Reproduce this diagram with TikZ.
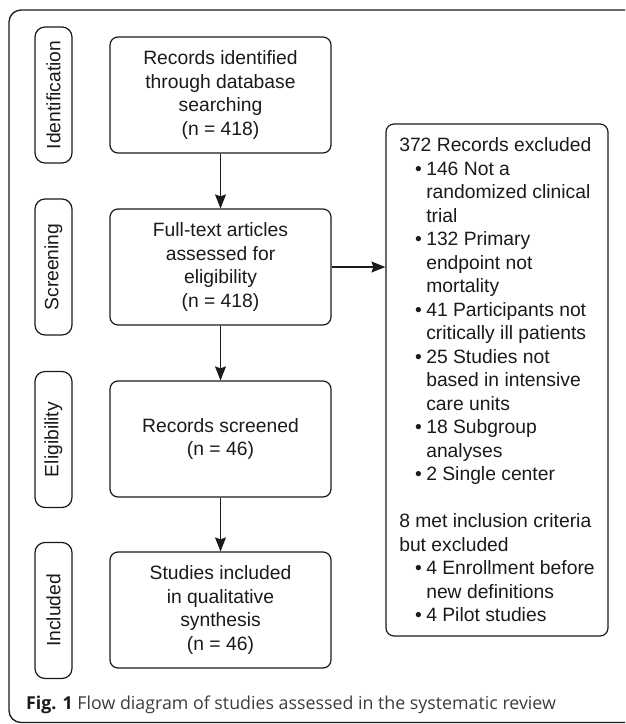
\documentclass[tikz,border=0pt]{standalone}
\usepackage{fontspec}
\setmainfont{Liberation Sans}
\newfontfamily\capfont{Open Sans}
\usetikzlibrary{arrows.meta}
\definecolor{ink}{HTML}{1A1A1A}
\definecolor{capgray}{HTML}{3C3C3C}
\begin{document}
\begin{tikzpicture}[x=1pt,y=-1pt,
  every node/.style={font=\fontsize{19.3}{23.5}\selectfont, text=ink},
  mainbox/.style={draw=ink, line width=1.2pt, rounded corners=8pt, minimum width=221pt, minimum height=116pt, align=center, inner sep=0pt},
  stagebox/.style={draw=ink, line width=1.2pt, rounded corners=10pt, rotate=90, minimum width=136pt, minimum height=37pt, inner sep=0pt},
  sidebox/.style={draw=ink, line width=1.2pt, rounded corners=8pt, minimum width=222pt, minimum height=512pt, align=left, inner sep=0pt},
  flow/.style={draw=ink, line width=1.2pt, -{Stealth[length=14pt,width=11pt,inset=2pt]}}
]
\useasboundingbox (0,0) rectangle (625,724);
\clip (0,0) rectangle (625,724);
% outer frame
\draw[draw=ink, line width=1.3pt, rounded corners=12pt] (640,722.5) -- (9,722.5) -- (9,10) -- (640,10);

% stage labels
\node[stagebox] (lid) at (53.5,95) {Identification};
\node[stagebox] (lsc) at (53.5,267) {Screening};
\node[stagebox] (lel) at (53.5,439.5) {Eligibility};
\node[stagebox] (lin) at (53.5,610.5) {Included};

% main boxes
\node[mainbox] (b1) at (220.5,95) {Records identified\\through database\\searching\\(n = 418)};
\node[mainbox] (b2) at (220.5,267) {Full-text articles\\assessed for\\eligibility\\(n = 418)};
\node[mainbox] (b3) at (220.5,439) {Records screened\\(n = 46)};
\node[mainbox] (b4) at (220.5,610) {Studies included\\in qualitative\\synthesis\\(n = 46)};

% side box
\newcommand{\bl}[1]{\hspace*{27pt}\llap{•\hspace{4.5pt}}#1}
\newcommand{\cl}[1]{\hspace*{27pt}#1}
\node[sidebox] (ex) at (497,380) {372 Records excluded\\
\bl{146 Not a}\\
\cl{randomized clinical}\\
\cl{trial}\\
\bl{132 Primary}\\
\cl{endpoint not}\\
\cl{mortality}\\
\bl{41 Participants not}\\
\cl{critically ill patients}\\
\bl{25 Studies not}\\
\cl{based in intensive}\\
\cl{care units}\\
\bl{18 Subgroup}\\
\cl{analyses}\\
\bl{2 Single center}\\
\mbox{}\\
8 met inclusion criteria\\
but excluded\\
\bl{4 Enrollment before}\\
\cl{new definitions}\\
\bl{4 Pilot studies}};

% connectors
\draw[flow] (b1) -- (b2);
\draw[flow] (b2) -- (b3);
\draw[flow] (b3) -- (b4);
\draw[flow] (b2.east) -- (b2.east -| ex.west);

% caption
\node[anchor=base west, inner sep=0pt, font=\capfont\fontsize{17.8}{21}\selectfont, text=capgray] (cap) at (26,709.5) {\textbf{\color{ink}Fig. 1} Flow diagram of studies assessed in the systematic review};
\end{tikzpicture}
\end{document}
